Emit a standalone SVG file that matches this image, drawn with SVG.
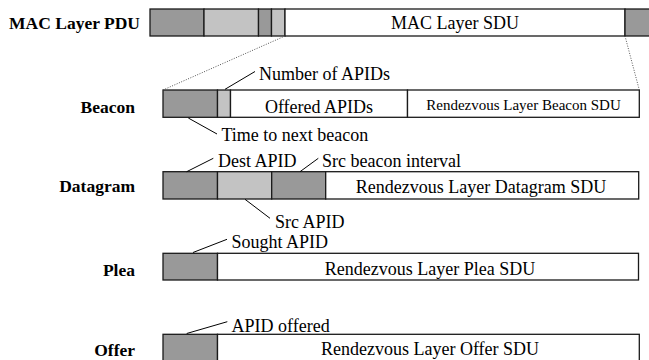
<svg xmlns="http://www.w3.org/2000/svg" width="649" height="360" viewBox="0 0 649 360">
  <style>
    .cell { stroke: #1a1a1a; stroke-width: 1.3; }
    .dark { fill: #999999; }
    .light { fill: #c3c3c3; }
    .white { fill: #ffffff; }
    .lbl { font-family: "Liberation Serif", "Times New Roman", serif; font-weight: bold; font-size: 17.5px; fill: #000; text-anchor: end; }
    .txt { font-family: "Liberation Serif", "Times New Roman", serif; font-size: 18px; fill: #000; }
    .mid { text-anchor: middle; }
    .small { font-size: 15px; }
    .lead { stroke: #000; stroke-width: 1; fill: none; }
    .dot { stroke: #555; stroke-width: 1; stroke-dasharray: 1 1.5; fill: none; }
  </style>
  <rect width="649" height="360" fill="#ffffff"/>

  <!-- MAC layer frame -->
  <g id="mac-pdu">
    <text class="lbl" x="140" y="29">MAC Layer PDU</text>
    <rect class="cell dark" x="150" y="9" width="54" height="27"/>
    <rect class="cell light" x="204" y="9" width="54.5" height="27"/>
    <rect class="cell dark" x="258.5" y="9" width="13" height="27"/>
    <rect class="cell light" x="271.5" y="9" width="13.5" height="27"/>
    <rect class="cell white" x="285" y="9" width="340" height="27"/>
    <rect class="cell dark" x="625" y="9" width="30" height="27"/>
    <text class="txt mid" x="455" y="29">MAC Layer SDU</text>
  </g>

  <!-- Beacon -->
  <g id="beacon">
    <text class="lbl" x="135" y="113">Beacon</text>
    <rect class="cell dark" x="163" y="90" width="54.5" height="27.3"/>
    <rect class="cell light" x="217.5" y="90" width="13" height="27.3"/>
    <rect class="cell white" x="230.5" y="90" width="177" height="27.3"/>
    <rect class="cell white" x="407.5" y="90" width="231.8" height="27.3"/>
    <text class="txt mid" x="319" y="113">Offered APIDs</text>
    <text class="txt mid small" x="523.5" y="110">Rendezvous Layer Beacon SDU</text>
    <text class="txt" x="259" y="80">Number of APIDs</text>
    <text class="txt" x="221.5" y="141">Time to next beacon</text>
  </g>

  <!-- Datagram -->
  <g id="datagram">
    <text class="lbl" x="135" y="192">Datagram</text>
    <rect class="cell dark" x="163" y="171.7" width="54.5" height="27.3"/>
    <rect class="cell light" x="217.5" y="171.7" width="54.2" height="27.3"/>
    <rect class="cell dark" x="271.7" y="171.7" width="54" height="27.3"/>
    <rect class="cell white" x="325.7" y="171.7" width="313" height="27.3"/>
    <text class="txt mid" x="481" y="193">Rendezvous Layer Datagram SDU</text>
    <text class="txt" x="218" y="166.5">Dest APID</text>
    <text class="txt" x="322" y="166.5">Src beacon interval</text>
    <text class="txt" x="275" y="228">Src APID</text>
  </g>

  <!-- Plea -->
  <g id="plea">
    <text class="lbl" x="135" y="276">Plea</text>
    <rect class="cell dark" x="163" y="253.3" width="54.5" height="26.7"/>
    <rect class="cell white" x="217.5" y="253.3" width="421" height="26.7"/>
    <text class="txt mid" x="430" y="275">Rendezvous Layer Plea SDU</text>
    <text class="txt" x="231.5" y="248">Sought APID</text>
  </g>

  <!-- Offer -->
  <g id="offer">
    <text class="lbl" x="135" y="355.5">Offer</text>
    <rect class="cell dark" x="163" y="334.3" width="54.5" height="30"/>
    <rect class="cell white" x="217.5" y="334.3" width="421.8" height="30"/>
    <text class="txt mid" x="430" y="355">Rendezvous Layer Offer SDU</text>
    <text class="txt" x="231.5" y="331.5">APID offered</text>
  </g>

  <!-- expansion guides and label leaders -->
  <g id="connectors">
    <line class="dot" x1="285" y1="36" x2="163" y2="90"/>
    <line class="dot" x1="625" y1="36" x2="639.3" y2="90"/>
    <line class="lead" x1="225" y1="89.3" x2="255" y2="71.5"/>
    <line class="lead" x1="188.3" y1="118" x2="217" y2="134"/>
    <line class="lead" x1="186.7" y1="171.7" x2="213.3" y2="158.3"/>
    <line class="lead" x1="300" y1="171.7" x2="318.3" y2="158.3"/>
    <line class="lead" x1="245" y1="199.3" x2="270" y2="218.3"/>
    <line class="lead" x1="193" y1="252.5" x2="227" y2="239.3"/>
    <line class="lead" x1="186.7" y1="333.5" x2="227.3" y2="321.7"/>
  </g>
</svg>
